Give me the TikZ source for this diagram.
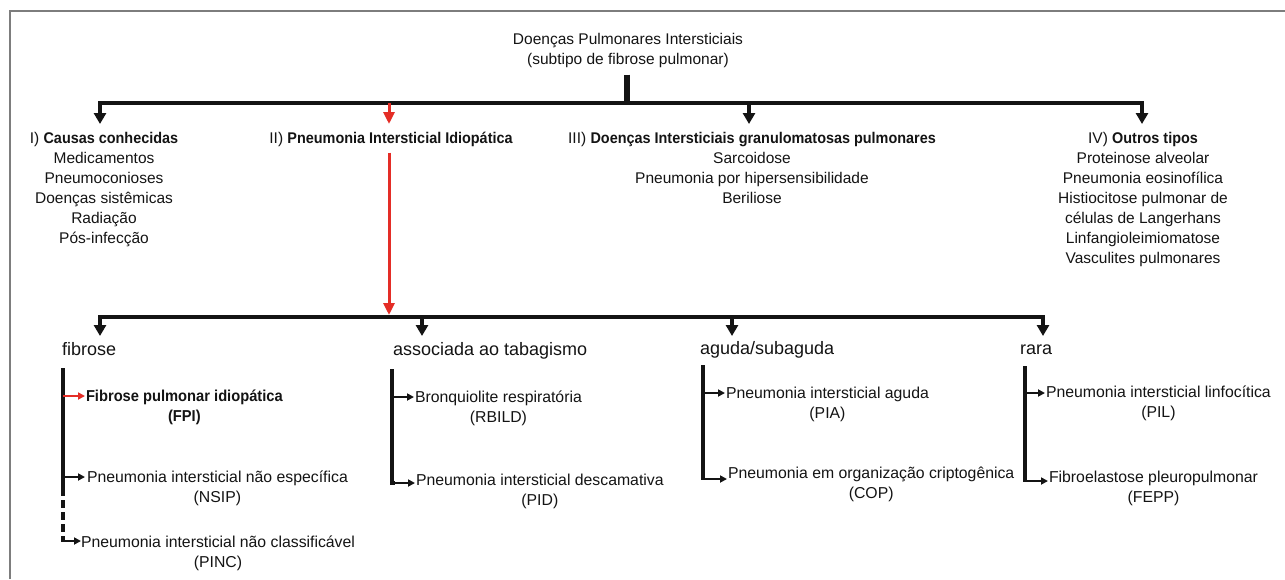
\documentclass[tikz,border=0pt]{standalone}
\usepackage{fontspec}
\setmainfont{Liberation Sans}
\newfontfamily\semib{Liberation Sans Bold}[FakeStretch=0.93]
\usetikzlibrary{arrows.meta}
\definecolor{ipired}{RGB}{228,45,38}
\definecolor{framegray}{RGB}{125,125,125}
\definecolor{ink}{RGB}{20,20,20}
\newcommand{\heavy}[1]{{\semib #1}}
\begin{document}
\begin{tikzpicture}[x=1pt,y=-1pt,
  every node/.style={inner sep=0pt,outer sep=0pt,text=ink},
  toptext/.style={font=\fontsize{15.5}{20}\selectfont,align=center,anchor=base},
  grouptext/.style={font=\fontsize{18}{22}\selectfont,anchor=base west},
  subtext/.style={font=\fontsize{15.8}{20}\selectfont,align=center,anchor=base west},
  bar/.style={draw=ink,line width=4pt,line join=miter},
  bigtip/.style={-{Triangle[width=12pt,length=11pt]}},
  bothtips/.style={{Triangle[width=12pt,length=11pt]}-{Triangle[width=12pt,length=11pt]}},
  redarrow/.style={draw=ipired,line width=3pt,-{Triangle[width=11pt,length=12pt]}},
  bracket/.style={draw=ink,line width=3.2pt},
  twig/.style={draw=ink,line width=2pt,-{Triangle[width=7pt,length=7pt]}},
  redtwig/.style={draw=ipired,line width=2pt,-{Triangle[width=7pt,length=7pt]}},
]
\useasboundingbox (0,0) rectangle (1285,579);
\fill[white] (0,0) rectangle (1285,579);

% frame
\draw[framegray,line width=1.3pt] (10,579) -- (10,11) -- (1285,11);

% title and first level (anchor base = baseline of the last line)
\node[toptext] (T) at (628,64.5) {Doenças Pulmonares Intersticiais\\(subtipo de fibrose pulmonar)};

\node[toptext] (L1) at (104,243.5) {I) \heavy{Causas conhecidas}\\Medicamentos\\Pneumoconioses\\Doenças sistêmicas\\Radiação\\Pós-infecção};
\node[toptext] (L2) at (391,143.5) {II) \heavy{Pneumonia Intersticial Idiopática}};
\node[toptext] (L3) at (752,203.5) {III) \heavy{Doenças Intersticiais granulomatosas pulmonares}\\Sarcoidose\\Pneumonia por hipersensibilidade\\Beriliose};
\node[toptext] (L4) at (1143,263.5) {IV) \heavy{Outros tipos}\\Proteinose alveolar\\Pneumonia eosinofílica\\Histiocitose pulmonar de\\células de Langerhans\\Linfangioleimiomatose\\Vasculites pulmonares};

\coordinate (j0) at (627,103);
\coordinate (j1L) at (100,103);
\coordinate (j1R) at (1142,103);
\coordinate (j1b) at (389,103);
\coordinate (j1c) at (749,103);
\coordinate (t1) at (100,124);
\coordinate (t2) at (389,124);
\coordinate (t3) at (749,124);
\coordinate (t4) at (1142,124);

\draw[draw=ink,line width=6pt,shorten <=7pt] (T.south -| j0) -- (j0);
\draw[bar,bothtips] (t1) -- (j1L) -- (j1R) -- (t4);
\draw[redarrow] (j1b) -- (t2);
\draw[bar,bigtip] (j1c) -- (t3);

% second level
\coordinate (j2L) at (100,317);
\coordinate (j2R) at (1043,317);
\coordinate (j2b) at (422,317);
\coordinate (j2c) at (732,317);
\coordinate (s1) at (100,336);
\coordinate (s2) at (422,336);
\coordinate (s3) at (732,336);
\coordinate (s4) at (1043,336);

\draw[redarrow,shorten <=6pt] (L2.south -| j1b) -- (389,315);
\draw[bar,bothtips] (s1) -- (j2L) -- (j2R) -- (s4);
\draw[bar,bigtip] (j2b) -- (s2);
\draw[bar,bigtip] (j2c) -- (s3);

\node[grouptext] (G1) at (62,355) {fibrose};
\node[grouptext] (G2) at (393,355) {associada ao tabagismo};
\node[grouptext] (G3) at (700,354) {aguda/subaguda};
\node[grouptext] (G4) at (1020,354) {rara};

% fibrose
\node[subtext] (FPI) at (86,421.5) {\heavy{Fibrose pulmonar idiopática}\\\heavy{(FPI)}};
\node[subtext] (NSIP) at (87,502) {Pneumonia intersticial não específica\\(NSIP)};
\node[subtext] (PINC) at (81,567.5) {Pneumonia intersticial não classificável\\(PINC)};
\draw[bracket] (63,368) -- (63,488);
\draw[bracket,dash pattern=on 8pt off 4pt] (63,488) -- (63,541);
\draw[redtwig] (63,396) -- (85,396);
\draw[twig] (63,477) -- (85,477);
\draw[twig] (61.4,541) -- (81,541);

% associada ao tabagismo
\node[subtext] (RB) at (415,422.5) {Bronquiolite respiratória\\(RBILD)};
\node[subtext] (PID) at (416,505.5) {Pneumonia intersticial descamativa\\(PID)};
\draw[bracket] (392,369) -- (392,483) -- (395,483);
\draw[twig] (392,397) -- (414,397);
\draw[twig] (390.4,483) -- (415,483);

% aguda/subaguda
\node[subtext] (PIA) at (726,418.5) {Pneumonia intersticial aguda\\(PIA)};
\node[subtext] (COP) at (728,498.5) {Pneumonia em organização criptogênica\\(COP)};
\draw[bracket] (703,365) -- (703,479);
\draw[twig] (703,393) -- (725,393);
\draw[twig] (701.4,479) -- (727,479);

% rara
\node[subtext] (PIL) at (1046,417.5) {Pneumonia intersticial linfocítica\\(PIL)};
\node[subtext] (FEPP) at (1049,502.5) {Fibroelastose pleuropulmonar\\(FEPP)};
\draw[bracket] (1025,366) -- (1025,481);
\draw[twig] (1025,393) -- (1045,393);
\draw[twig] (1023.4,481) -- (1048,481);
\end{tikzpicture}
\end{document}
